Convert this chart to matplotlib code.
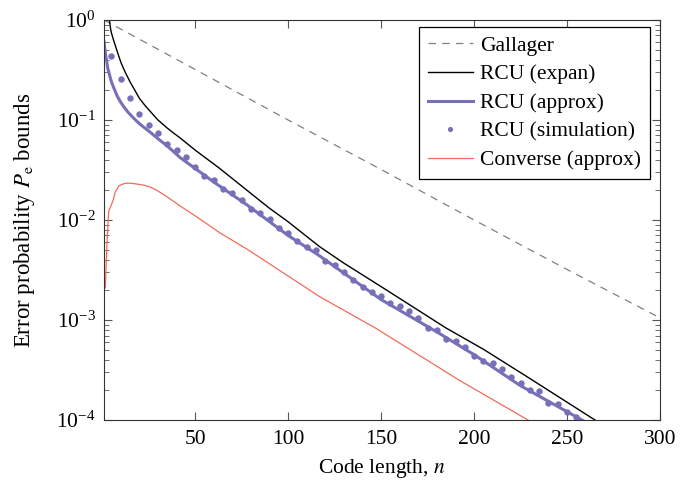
import matplotlib
matplotlib.use("Agg")
import matplotlib.pyplot as plt
from matplotlib.ticker import LogLocator, FixedLocator, NullFormatter

plt.rcParams['font.family'] = ['Liberation Serif', 'DejaVu Serif']
plt.rcParams['mathtext.fontset'] = 'stix'

# Gallager bound
gal_n = [1, 50, 100, 150, 200, 250, 300]
gal_p = [1.0, 0.32, 0.1, 0.032, 0.01, 0.0032, 0.00105]

# RCU (expan)
exp_n = [3.9, 4.5, 5, 6, 7, 8, 10, 11.4, 13, 15, 17, 20, 23, 26, 30, 35, 38, 42, 50,
         63, 81, 90, 100, 117, 130, 151, 170, 185, 205, 230, 265, 270]
exp_p = [1.0, 0.82, 0.74, 0.64, 0.56, 0.49, 0.38, 0.33, 0.285, 0.24, 0.207, 0.165,
         0.14, 0.121, 0.10, 0.083, 0.075, 0.066, 0.05, 0.033, 0.0178, 0.0131, 0.0096,
         0.0054, 0.0037, 0.0021, 0.00125, 8.3e-4, 5.1e-4, 2.6e-4, 1.0e-4, 8.7e-5]

# RCU (approx)
app_n = [1, 1.5, 2, 2.5, 3, 4, 5, 6, 8, 10, 12, 14, 17, 20, 26, 30, 35, 42, 60, 78,
         100, 116, 150, 180, 200, 225, 258, 265]
app_p = [0.61, 0.50, 0.43, 0.38, 0.33, 0.28, 0.24, 0.215, 0.175, 0.15, 0.133, 0.119,
         0.104, 0.092, 0.075, 0.065, 0.055, 0.042, 0.024, 0.0141, 0.0070, 0.0045,
         0.0016, 7.6e-4, 4.5e-4, 2.2e-4, 1.0e-4, 8.5e-5]

# RCU (simulation)
sim_n = list(range(5, 260, 5))
sim_p = [0.44, 0.255, 0.167, 0.115, 0.090, 0.074, 0.057, 0.050, 0.0425, 0.0337,
         0.0274, 0.025, 0.0204, 0.0188, 0.016, 0.013, 0.0117, 0.0102, 0.0083, 0.0075,
         0.0062, 0.0054, 0.0050, 0.0039, 0.00355, 0.0030, 0.0025, 0.00215, 0.0019, 0.00175,
         0.00148, 0.00137, 0.00124, 0.00104, 0.00083, 0.00080, 0.00064, 0.00061, 0.00054, 0.00044,
         0.00039, 0.00037, 0.00032, 0.00027, 0.000235, 0.00020, 0.000195, 0.000147, 0.000145, 0.000121,
         0.000106]

# Converse (approx)
con_n = [1.7, 2.6, 3.5, 4.5, 6, 7, 9, 12, 14, 18, 22, 26, 30, 35, 42, 53, 63, 78,
         117, 147, 192, 229]
con_p = [0.0021, 0.006, 0.0123, 0.0135, 0.016, 0.019, 0.022, 0.0232, 0.0234, 0.0230,
         0.0224, 0.0213, 0.0195, 0.0170, 0.0138, 0.0101, 0.0075, 0.0051, 0.00171,
         0.00083, 0.00025, 0.0001]

xticks = [50, 100, 150, 200, 250, 300]

purple = '#7570B8'
red = '#F26B5B'
FS = 15.5

fig = plt.figure(figsize=(6.94, 4.83), dpi=100)
ax = fig.add_axes([0.1499, 0.1304, 0.8012, 0.8282])

ax.plot(gal_n, gal_p, color='#808080', lw=0.9, ls=(0, (6, 5)), label='Gallager')
ax.plot(exp_n, exp_p, color='black', lw=1.0, label='RCU (expan)')
ax.plot(app_n, app_p, color=purple, lw=2.2, label='RCU (approx)')
ax.plot(sim_n, sim_p, ls='none', marker='o', ms=4.6, color=purple, mec='none',
        label='RCU (simulation)')
ax.plot(con_n, con_p, color=red, lw=0.9, label='Converse (approx)')

ax.set_yscale('log')
ax.set_xlim(1, 300)
ax.set_ylim(1e-4, 1)
ax.xaxis.set_major_locator(FixedLocator(xticks))
ax.yaxis.set_major_locator(LogLocator(base=10, numticks=10))
ax.yaxis.set_minor_locator(LogLocator(base=10, subs=range(2, 10), numticks=50))
ax.yaxis.set_minor_formatter(NullFormatter())

ax.tick_params(which='both', direction='in', top=True, right=True, labelsize=FS,
               color='#555555')
ax.tick_params(which='major', length=6, width=0.8)
ax.tick_params(which='minor', length=3.5, width=0.6)
ax.tick_params(axis='x', pad=7)
ax.tick_params(axis='y', pad=6)
for s in ax.spines.values():
    s.set_linewidth(0.8)
    s.set_color('#333333')

ax.set_xlabel('Code length, $n$', fontsize=FS, labelpad=6)
ax.set_ylabel('Error probability $P_\\mathrm{e}$ bounds', fontsize=16.5, labelpad=14)

leg = ax.legend(loc='upper right', fontsize=FS, frameon=True, fancybox=False,
                edgecolor='black', framealpha=1, handlelength=2.1, handletextpad=0.35,
                borderpad=0.4, labelspacing=0.40, markerscale=0.8, borderaxespad=0,
                bbox_to_anchor=(0.982, 0.9825))
leg.get_frame().set_linewidth(0.9)

fig.savefig('out.png', dpi=100)
